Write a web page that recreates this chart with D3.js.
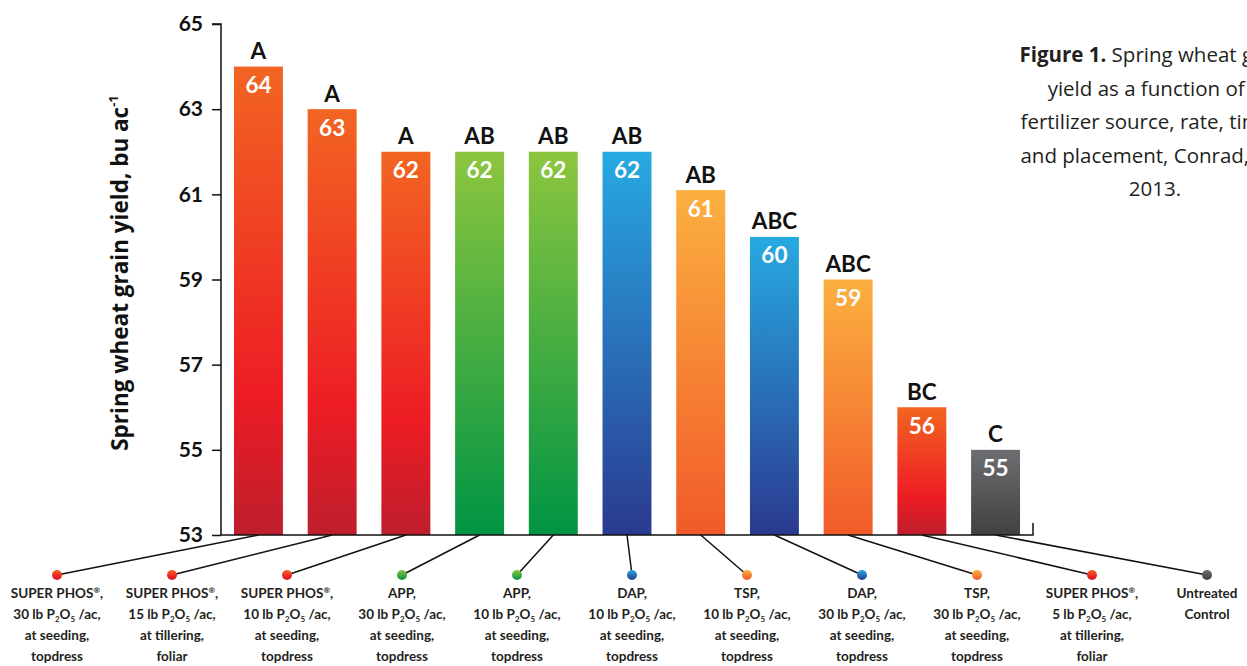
<!DOCTYPE html>
<html lang="en">

<head>
	<meta charset="utf-8">
	<title>spring_wheat_yield</title>
	<style>
		html, body { margin: 0; padding: 0; background: #fff; }
		svg { display: block; }
	</style>
</head>

<body>
	<script src="https://cdn.jsdelivr.net/npm/d3@7"></script>
	<script>

		// treatments, left to right
		const sources = ["SUPER PHOS", "SUPER PHOS", "SUPER PHOS", "APP", "APP", "DAP", "TSP", "DAP", "TSP", "SUPER PHOS", "Untreated"];
		const rates = [30, 15, 10, 30, 10, 10, 10, 30, 30, 5, null];
		const timings = ["at seeding", "at tillering", "at seeding", "at seeding", "at seeding", "at seeding", "at seeding", "at seeding", "at seeding", "at tillering", null];
		const placements = ["topdress", "foliar", "topdress", "topdress", "topdress", "topdress", "topdress", "topdress", "topdress", "foliar", "Control"];

		// yield, bu/ac, and significance groups
		const yields = [64, 63, 62, 62, 62, 62, 61.1, 60, 59, 56, 55];
		const groups = ["A", "A", "A", "AB", "AB", "AB", "AB", "ABC", "ABC", "BC", "C"];

		const yTicks = [53, 55, 57, 59, 61, 63, 65];

		const captionLines = ["Spring wheat grain", "yield as a function of P", "fertilizer source, rate, timing", "and placement, Conrad, MT,", "2013."];

		const gradients = {
			"SUPER PHOS": [[0, "#f26522"], [0.7, "#ed1c24"], [1, "#be1e2d"]],
			"APP": [[0, "#8dc63f"], [1, "#009444"]],
			"DAP": [[0, "#27aae1"], [1, "#2b3990"]],
			"TSP": [[0, "#fbb040"], [1, "#f15a29"]],
			"Untreated": [[0, "#6d6e71"], [1, "#414042"]]
		};

		const width = 1247;
		const height = 666;
		const font = "Lato, 'Open Sans', sans-serif";
		const wideFont = "'Open Sans', Lato, sans-serif";

		const data = yields.map((v, i) => {
			return {
				i,
				value: v,
				group: groups[i],
				source: sources[i],
				rate: rates[i],
				timing: timings[i],
				placement: placements[i]
			};
		});

		const svg = d3.select("body")
			.append("svg")
			.attr("width", width)
			.attr("height", height)
			.style("font-family", font);

		const defs = svg.append("defs");
		Object.entries(gradients).forEach(([key, stops], k) => {
			const g = defs.append("linearGradient")
				.attr("id", "grad" + k)
				.attr("x1", 0).attr("y1", 0)
				.attr("x2", 0).attr("y2", 1);
			stops.forEach(([o, c]) => {
				g.append("stop").attr("offset", o).attr("stop-color", c);
			});
		});
		const gradId = (s) => {
			return "url(#grad" + Object.keys(gradients).indexOf(s) + ")";
		};

		const x = d3.scaleBand()
			.domain(data.map(d => d.i))
			.range([221, 1033])
			.paddingInner(0.336)
			.paddingOuter(0.176);

		const y = d3.scaleLinear()
			.domain([53, 65])
			.range([535, 24]);

		const labelX = d3.scalePoint()
			.domain(data.map(d => d.i))
			.range([57, 1207]);

		// leader lines from bar foot to label dot
		svg.append("g")
			.attr("stroke", "#111")
			.attr("stroke-width", 1.5)
			.selectAll()
			.data(data)
			.join("line")
			.attr("x1", d => x(d.i) + x.bandwidth() / 2)
			.attr("y1", y(53))
			.attr("x2", d => labelX(d.i))
			.attr("y2", 575);

		// bars
		svg.append("g")
			.selectAll()
			.data(data)
			.join("rect")
			.attr("x", d => x(d.i))
			.attr("y", d => y(d.value))
			.attr("width", x.bandwidth())
			.attr("height", d => y(53) - y(d.value))
			.attr("fill", d => gradId(d.source));

		// axes
		const yAxis = svg.append("g")
			.attr("transform", "translate(221,0)")
			.call(d3.axisLeft(y).tickValues(yTicks).tickSize(9).tickPadding(9).tickFormat(d3.format("d")));
		yAxis.select(".domain").attr("stroke", "#111").attr("stroke-width", 1.5).attr("d", `M-9,${y(65)}H0V${y(53)}`);
		yAxis.selectAll(".tick line").attr("stroke", "#111").attr("stroke-width", 1.5);
		yAxis.selectAll(".tick text")
			.attr("fill", "#111")
			.attr("font-family", font)
			.attr("font-size", 21)
			.attr("font-weight", 700);

		svg.append("path")
			.attr("fill", "none")
			.attr("stroke", "#111")
			.attr("stroke-width", 1.5)
			.attr("d", `M221,${y(53)}H1033V${y(53) - 12}`);

		svg.append("text")
			.attr("transform", `translate(128,273) rotate(-90)`)
			.attr("text-anchor", "middle")
			.attr("font-family", wideFont)
			.attr("font-size", 22.5)
			.attr("font-weight", 700)
			.attr("fill", "#111")
			.call((t) => {
				t.append("tspan").text("Spring wheat grain yield, bu ac");
				t.append("tspan").attr("font-size", 13).attr("dy", -10).text("-1");
			});

		// group letters above bars
		svg.append("g")
			.selectAll()
			.data(data)
			.join("text")
			.attr("x", d => x(d.i) + x.bandwidth() / 2)
			.attr("y", d => y(d.value) - 7.5)
			.attr("text-anchor", "middle")
			.attr("font-size", 22.5)
			.attr("font-weight", 700)
			.attr("fill", "#111")
			.text(d => d.group);

		// values inside bars
		svg.append("g")
			.selectAll()
			.data(data)
			.join("text")
			.attr("x", d => x(d.i) + x.bandwidth() / 2)
			.attr("y", d => y(d.value) + 26.5)
			.attr("text-anchor", "middle")
			.attr("font-size", 22.5)
			.attr("font-weight", 700)
			.attr("fill", "#fff")
			.text(d => d3.format(".0f")(d.value));

		// label dots
		svg.append("g")
			.selectAll()
			.data(data)
			.join("circle")
			.attr("cx", d => labelX(d.i))
			.attr("cy", 575)
			.attr("r", 5)
			.attr("fill", d => gradId(d.source));

		// treatment labels
		const label = svg.append("g")
			.selectAll()
			.data(data)
			.join("text")
			.attr("text-anchor", "middle")
			.attr("font-size", 13.5)
			.attr("font-weight", 700)
			.attr("fill", "#231f20");

		label.each(function (d) {
			const t = d3.select(this);
			const cx = labelX(d.i);
			if (d.rate === null) {
				t.append("tspan").attr("x", cx).attr("y", 598).text(d.source);
				t.append("tspan").attr("x", cx).attr("y", 619).text(d.placement);
				return;
			}
			const l1 = t.append("tspan").attr("x", cx).attr("y", 598);
			l1.append("tspan").text(d.source);
			if (d.source === "SUPER PHOS") {
				l1.append("tspan").attr("font-size", 8).attr("dy", -5).text("®");
				l1.append("tspan").attr("dy", 5).text(",");
			} else {
				l1.append("tspan").text(",");
			}
			const l2 = t.append("tspan").attr("x", cx).attr("y", 619);
			l2.append("tspan").text(d.rate + " lb P");
			l2.append("tspan").attr("font-size", 8).attr("dy", 3).text("2");
			l2.append("tspan").attr("dy", -3).text("O");
			l2.append("tspan").attr("font-size", 8).attr("dy", 3).text("5");
			l2.append("tspan").attr("dy", -3).text(" /ac,");
			t.append("tspan").attr("x", cx).attr("y", 640).text(d.timing + ",");
			t.append("tspan").attr("x", cx).attr("y", 661).text(d.placement);
		});

		// caption, runs off the right edge as in the source figure
		const caption = svg.append("text")
			.attr("text-anchor", "middle")
			.attr("font-family", wideFont)
			.attr("font-size", 20.5)
			.attr("fill", "#231f20");
		captionLines.forEach((line, k) => {
			const ts = caption.append("tspan")
				.attr("x", 1155)
				.attr("y", 62 + k * 33.6);
			if (k === 0) {
				ts.append("tspan").attr("font-weight", 700).text("Figure 1. ");
			}
			ts.append("tspan").text(line);
		});

	</script>
</body>

</html>
